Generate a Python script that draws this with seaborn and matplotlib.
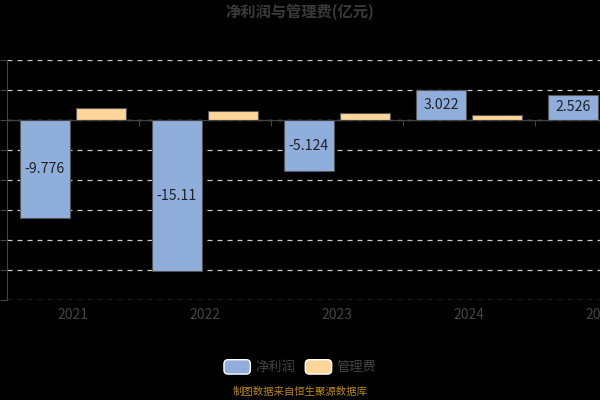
import matplotlib
matplotlib.use("Agg")
import matplotlib.pyplot as plt
import seaborn as sns
import pandas as pd
import numpy as np
from matplotlib.patches import Patch, FancyBboxPatch
from matplotlib.legend_handler import HandlerPatch

years = ["2021", "2022", "2023", "2024", "2025"]
net_profit = [-9.776, -15.11, -5.124, 3.022, 2.526]
mgmt_fee = [1.17, 0.90, 0.67, 0.47, 0.42]
net_labels = ["-9.776", "-15.11", "-5.124", "3.022", "2.526"]
series_names = ["净利润", "管理费"]

sns.set_theme(style="dark")
plt.rcParams['font.family'] = ['Noto Sans CJK SC', 'DejaVu Sans']

df = pd.DataFrame({
    "year": years * 2,
    "value": net_profit + mgmt_fee,
    "series": [series_names[0]] * len(years) + [series_names[1]] * len(years),
})

blue = "#8FAEDC"
orange = "#FFD699"

fig = plt.figure(figsize=(6, 4), dpi=100, facecolor="black")
ax = fig.add_axes([7 / 600, 100 / 400, 660 / 600, 240 / 400])
ax.set_facecolor("black")

sns.barplot(data=df, x="year", y="value", hue="series", order=years,
            hue_order=series_names, palette=[blue, orange], width=0.85,
            gap=0.1, saturation=1, edgecolor="#555555", linewidth=0.8,
            legend=False, ax=ax, zorder=3)

ax.set_ylim(-18, 6)
ax.set_xlim(-0.5, 4.5)
ax.set_yticks(np.arange(-18, 7, 3))
ax.set_yticklabels([])
ax.tick_params(axis="y", length=5, color="#444444", width=0.8, left=True)
ax.grid(axis="y", color="#cccccc", linestyle=(0, (4, 4)), linewidth=0.9, zorder=0)
ax.grid(axis="x", visible=False)

for s in ["top", "right"]:
    ax.spines[s].set_visible(False)
ax.spines["left"].set_color("#444444")
ax.spines["left"].set_linewidth(0.8)
ax.spines["bottom"].set_position(("data", 0))
ax.spines["bottom"].set_color("#444444")
ax.spines["bottom"].set_linewidth(0.8)
ax.spines["bottom"].set_zorder(4)

ax.set_xticks(np.arange(len(years)))
ax.set_xticklabels([])
ax.tick_params(axis="x", which="major", length=0, bottom=True)
ax.set_xticks(np.arange(len(years)) + 0.5, minor=True)
ax.tick_params(axis="x", which="minor", length=4, color="#444444", width=0.8, bottom=True)
ax.set_xlabel("")
ax.set_ylabel("")

sec = ax.secondary_xaxis(0)
sec.set_xticks(np.arange(len(years)))
sec.set_xticklabels(years, color="#444444", fontsize=10)
sec.tick_params(length=0, pad=6)
sec.spines["bottom"].set_visible(False)

cont = ax.containers[0]
ax.bar_label(cont, labels=net_labels, label_type="center", color="#222222", fontsize=10.2)

fig.text(0.5, 1 - 12 / 400, "净利润与管理费(亿元)", ha="center", va="center",
         color="#3a3a3a", fontsize=11, fontweight="bold")


def make_round(legend, orig_handle, xdescent, ydescent, width, height, fontsize):
    return FancyBboxPatch((-xdescent, -ydescent), width, height,
                          boxstyle="round,pad=0,rounding_size=3",
                          facecolor=orig_handle.get_facecolor(),
                          edgecolor="#555555", linewidth=0.8)


handles = [Patch(facecolor=blue, label=series_names[0]),
           Patch(facecolor=orange, label=series_names[1])]
leg = fig.legend(handles=handles, loc="center", bbox_to_anchor=(0.5, 1 - 367 / 400),
                 ncol=2, frameon=False, fontsize=9.5, handlelength=2.0, handleheight=1.3,
                 columnspacing=0.8, handletextpad=0.35,
                 handler_map={Patch: HandlerPatch(patch_func=make_round)})
for t in leg.get_texts():
    t.set_color("#444444")

fig.text(0.5, 1 - 392 / 400, "制图数据来自恒生聚源数据库", ha="center", va="center",
         color="#B8860B", fontsize=7.5)

fig.savefig("out.png", dpi=100, facecolor="black")
